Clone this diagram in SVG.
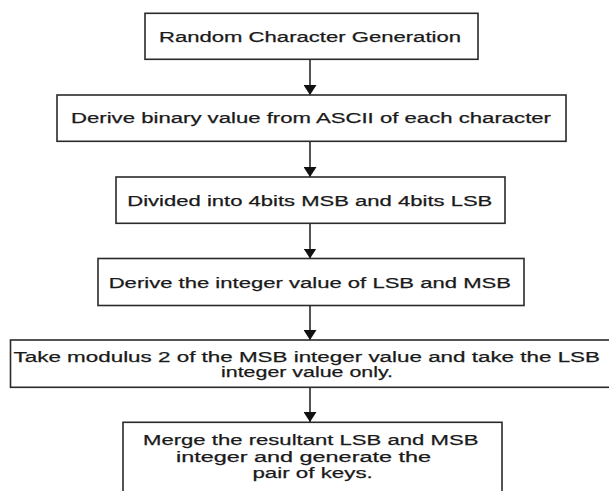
<svg xmlns="http://www.w3.org/2000/svg" width="609" height="491" viewBox="0 0 609 491">
<style>
.box{fill:#ffffff;stroke:#2a2a2a;stroke-width:1.6}
.t{font-family:"Liberation Sans",Arial,sans-serif;font-size:15.5px;fill:#1a1a1a;stroke:#1a1a1a;stroke-width:0.25}
.c{stroke:#2a2a2a;stroke-width:1.6;fill:none}
</style>
<defs>
<marker id="ah" markerUnits="userSpaceOnUse" viewBox="0 0 10 13" refX="10" refY="6.5" markerWidth="10" markerHeight="13" orient="auto">
<path d="M0,0 L10,6.5 L0,13 z" fill="#111"/>
</marker>
</defs>
<rect width="609" height="491" fill="#ffffff"/>
<g id="connectors">
<line class="c" x1="310" y1="59.5" x2="310" y2="95" marker-end="url(#ah)"/>
<line class="c" x1="310" y1="141.5" x2="310" y2="177" marker-end="url(#ah)"/>
<line class="c" x1="310" y1="223.5" x2="310" y2="258.5" marker-end="url(#ah)"/>
<line class="c" x1="310" y1="305.5" x2="310" y2="340" marker-end="url(#ah)"/>
<line class="c" x1="310" y1="387.5" x2="310" y2="422" marker-end="url(#ah)"/>
</g>
<g id="n1">
<rect class="box" x="145" y="13.3" width="333" height="46"/>
<text class="t" x="159" y="42" textLength="302" lengthAdjust="spacingAndGlyphs">Random Character Generation</text>
</g>
<g id="n2">
<rect class="box" x="57" y="95" width="509" height="46.3"/>
<text class="t" x="71" y="123" textLength="480" lengthAdjust="spacingAndGlyphs">Derive binary value from ASCII of each character</text>
</g>
<g id="n3">
<rect class="box" x="116" y="177" width="389" height="46.3"/>
<text class="t" x="127.3" y="205.5" textLength="365" lengthAdjust="spacingAndGlyphs">Divided into 4bits MSB and 4bits LSB</text>
</g>
<g id="n4">
<rect class="box" x="98" y="258.5" width="426" height="47"/>
<text class="t" x="108.7" y="287.5" textLength="402.3" lengthAdjust="spacingAndGlyphs">Derive the integer value of LSB and MSB</text>
</g>
<g id="n5">
<rect class="box" x="10.5" y="340" width="620" height="47.3"/>
<text class="t" x="13.6" y="361.5" textLength="586.4" lengthAdjust="spacingAndGlyphs">Take modulus 2 of the MSB integer value and take the LSB</text>
<text class="t" x="221" y="377" textLength="172" lengthAdjust="spacingAndGlyphs">integer value only.</text>
</g>
<g id="n6">
<rect class="box" x="123" y="422.3" width="379" height="100"/>
<text class="t" x="143" y="444.5" textLength="335.4" lengthAdjust="spacingAndGlyphs">Merge the resultant LSB and MSB</text>
<text class="t" x="176" y="461.5" textLength="255" lengthAdjust="spacingAndGlyphs">integer and generate the</text>
<text class="t" x="252.4" y="477.5" textLength="120.4" lengthAdjust="spacingAndGlyphs">pair of keys.</text>
</g>
</svg>
